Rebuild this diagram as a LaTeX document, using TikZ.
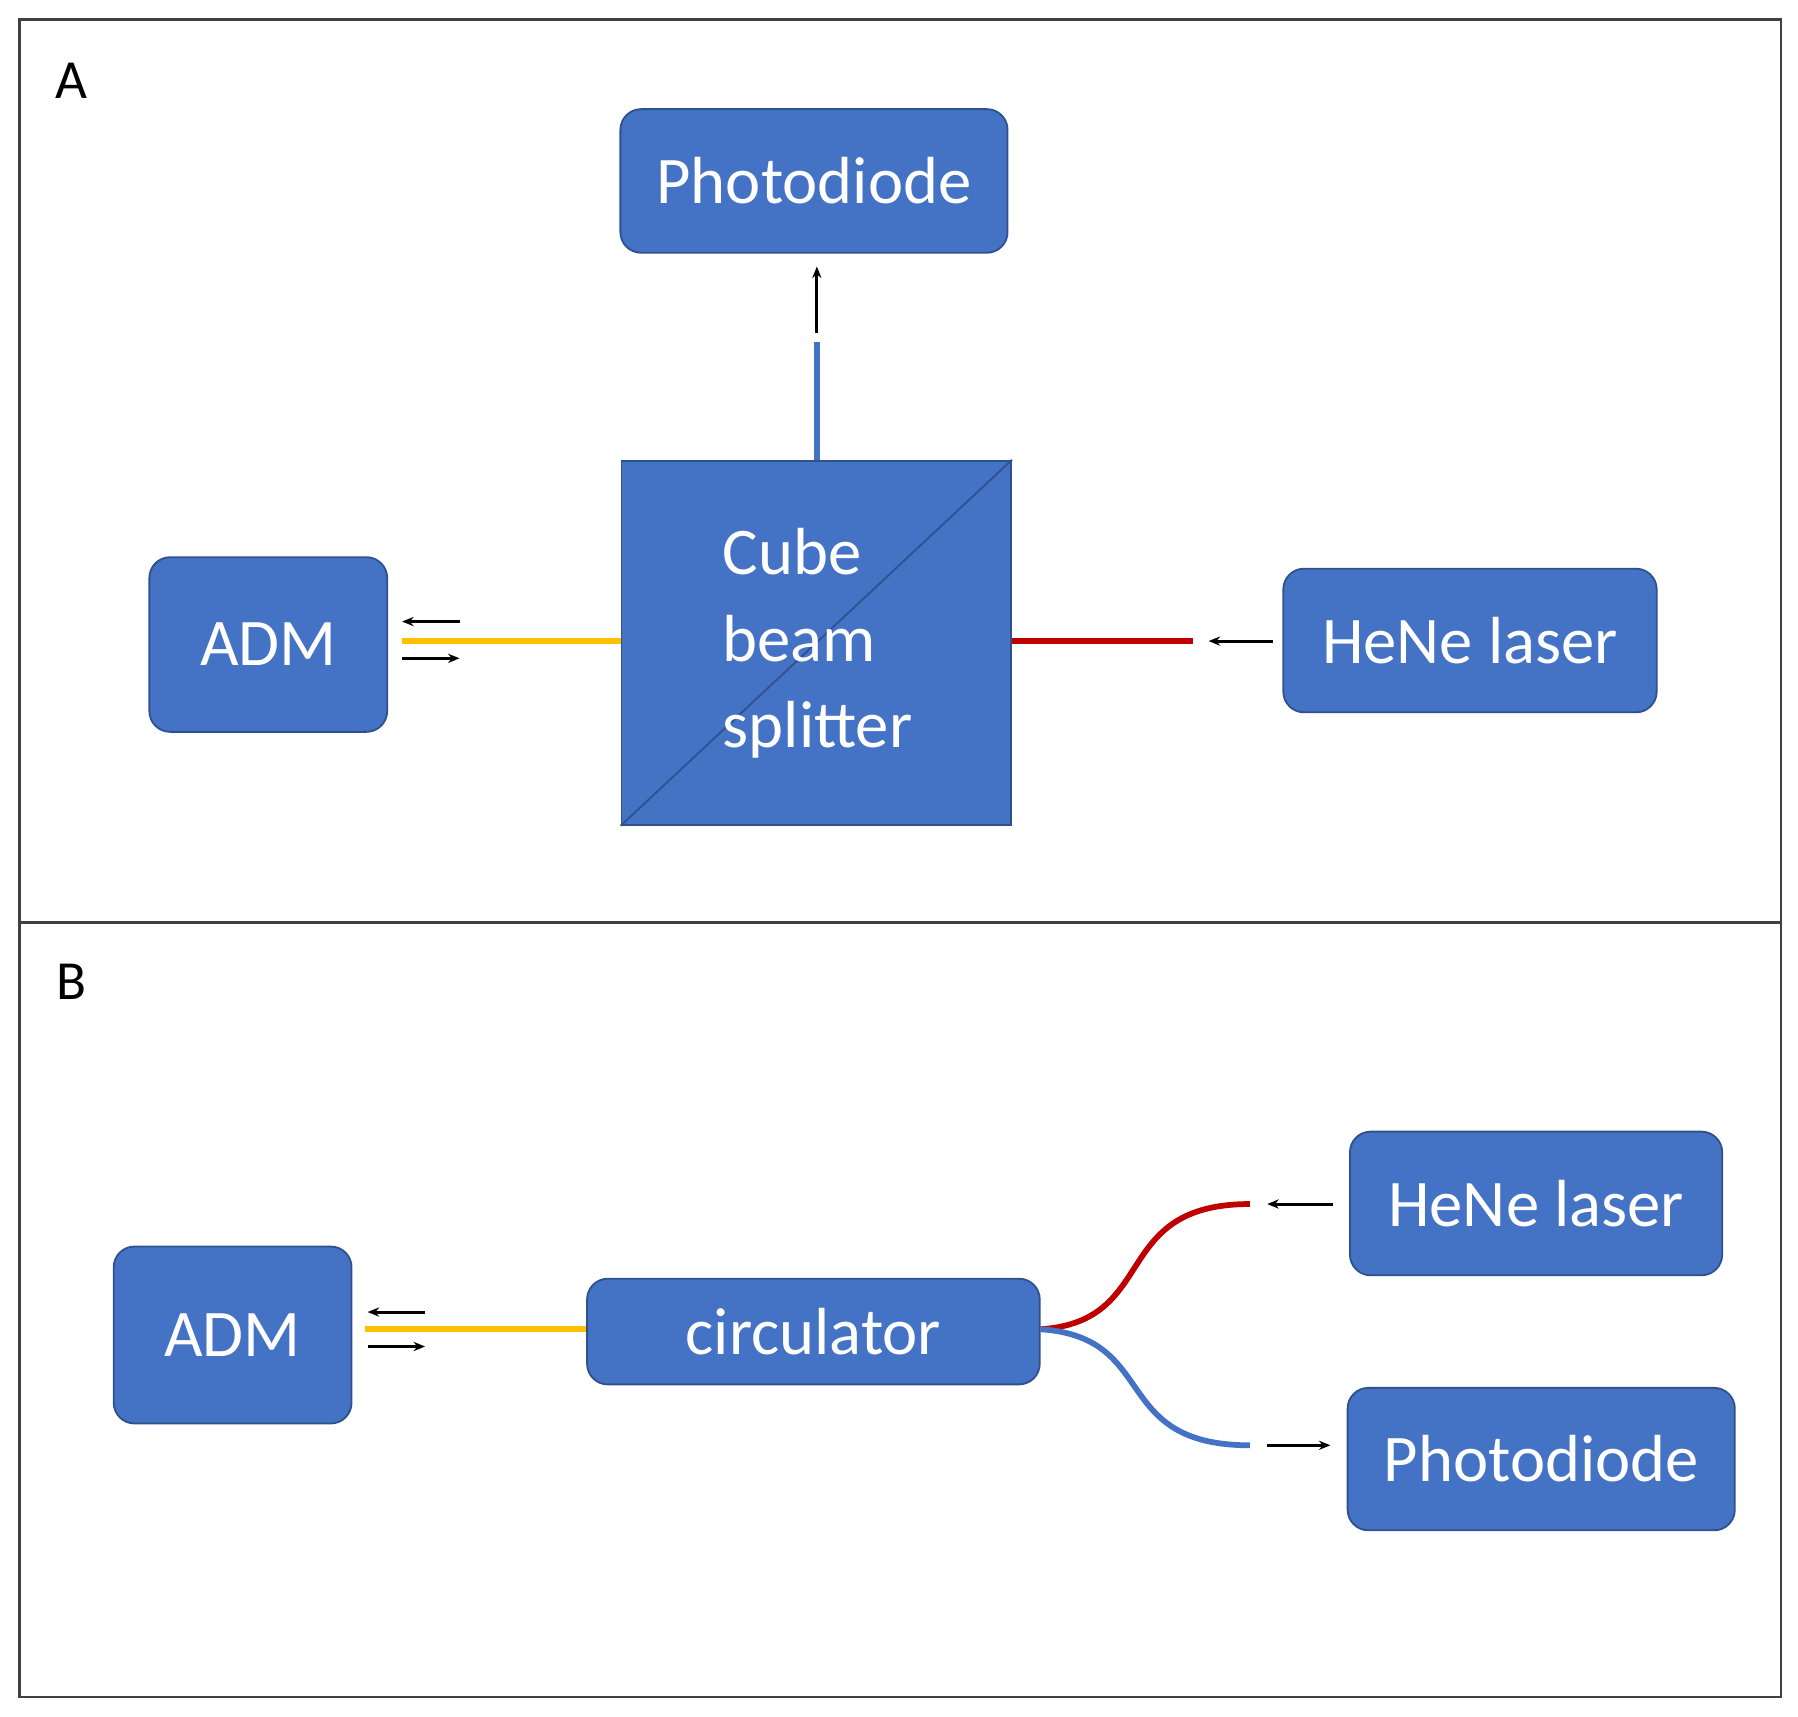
\documentclass[tikz,border=0pt]{standalone}
\usepackage{fontspec}
\setmainfont{Carlito}
\usetikzlibrary{arrows.meta}
\definecolor{boxblue}{HTML}{4472C4}
\definecolor{edgeblue}{HTML}{2F528F}
\definecolor{fibyel}{HTML}{FFC000}
\definecolor{fibred}{HTML}{C00000}
\begin{document}
\begin{tikzpicture}[x=0.5pt,y=-0.5pt,
  box/.style={draw=edgeblue,line width=0.8pt,fill=boxblue,rounded corners=9pt,text=white,font=\fontsize{29}{34}\selectfont,inner sep=0pt},
  cube/.style={draw=edgeblue,line width=0.8pt,fill=boxblue,inner sep=0pt},
  arr/.style={-{Stealth[length=5pt,width=4pt]},line width=1.3pt,black},
  fib/.style={line width=2.5pt},
  lab/.style={font=\fontsize{24}{28}\selectfont,anchor=center}]
\useasboundingbox (0,0) rectangle (1565,1494);
\draw[line width=1pt,black!75] (17,17) rectangle (1550,1477);
\draw[line width=1pt,black!75] (17,803) -- (1550,803);
\node[lab] (la) at (62,70) {A};
\node[lab] (lb) at (62,855) {B};
% Panel A
\node[box,minimum width=168.5pt,minimum height=62.5pt] (pdA) at (708.5,157.5) {Photodiode};
\node[cube,minimum width=169.5pt,minimum height=158.5pt] (cube) at (710.5,559.5) {};
\draw[edgeblue,line width=0.8pt] (cube.south west) -- (cube.north east);
\node[anchor=west,align=left,text=white,font=\fontsize{29}{37.5}\selectfont] (cubetxt) at (622,560) {Cube\\beam\\splitter};
\node[box,minimum width=103.5pt,minimum height=76pt] (admA) at (233.5,561) {ADM};
\node[box,minimum width=162.5pt,minimum height=62.5pt] (heA) at (1279.5,557.5) {HeNe laser};
\coordinate (yA) at (350,558);
\coordinate (rA) at (1038,558);
\coordinate (bA) at (711,298);
\coordinate (upA0) at (711,290);
\coordinate (upA1) at (711,232);
\draw[fibyel,fib] (yA) -- (cube.west |- yA);
\draw[fibred,fib] (cube.east |- rA) -- (rA);
\draw[boxblue,fib] (cube.north -| bA) -- (bA);
\draw[arr] (upA0) -- (upA1);
\draw[arr] (400,541) -- (350,541);
\draw[arr] (350,573) -- (400,573);
\draw[arr] (1108,558) -- (1052,558);
% Panel B
\node[box,minimum width=103.5pt,minimum height=77pt] (admB) at (202.5,1162) {ADM};
\node[box,minimum width=197pt,minimum height=46pt] (circ) at (708,1159) {circulator};
\node[box,minimum width=162pt,minimum height=62.5pt] (heB) at (1337,1047.5) {HeNe laser};
\node[box,minimum width=168.5pt,minimum height=62pt] (pdB) at (1341.5,1270) {Photodiode};
\coordinate (yB) at (318,1157);
\coordinate (rB) at (1088,1048);
\coordinate (bB) at (1088,1258);
\draw[fibyel,fib] (yB) -- (circ.west |- yB);
\draw[fibred,fib] (circ.east |- yB) .. controls (1010,1150) and (965,1048) .. (rB);
\draw[boxblue,fib] (circ.east |- yB) .. controls (1010,1164) and (965,1258) .. (bB);
\draw[arr] (370,1142) -- (320,1142);
\draw[arr] (320,1172) -- (370,1172);
\draw[arr] (1160,1048) -- (1103,1048);
\draw[arr] (1103,1258) -- (1158,1258);
\end{tikzpicture}
\end{document}
